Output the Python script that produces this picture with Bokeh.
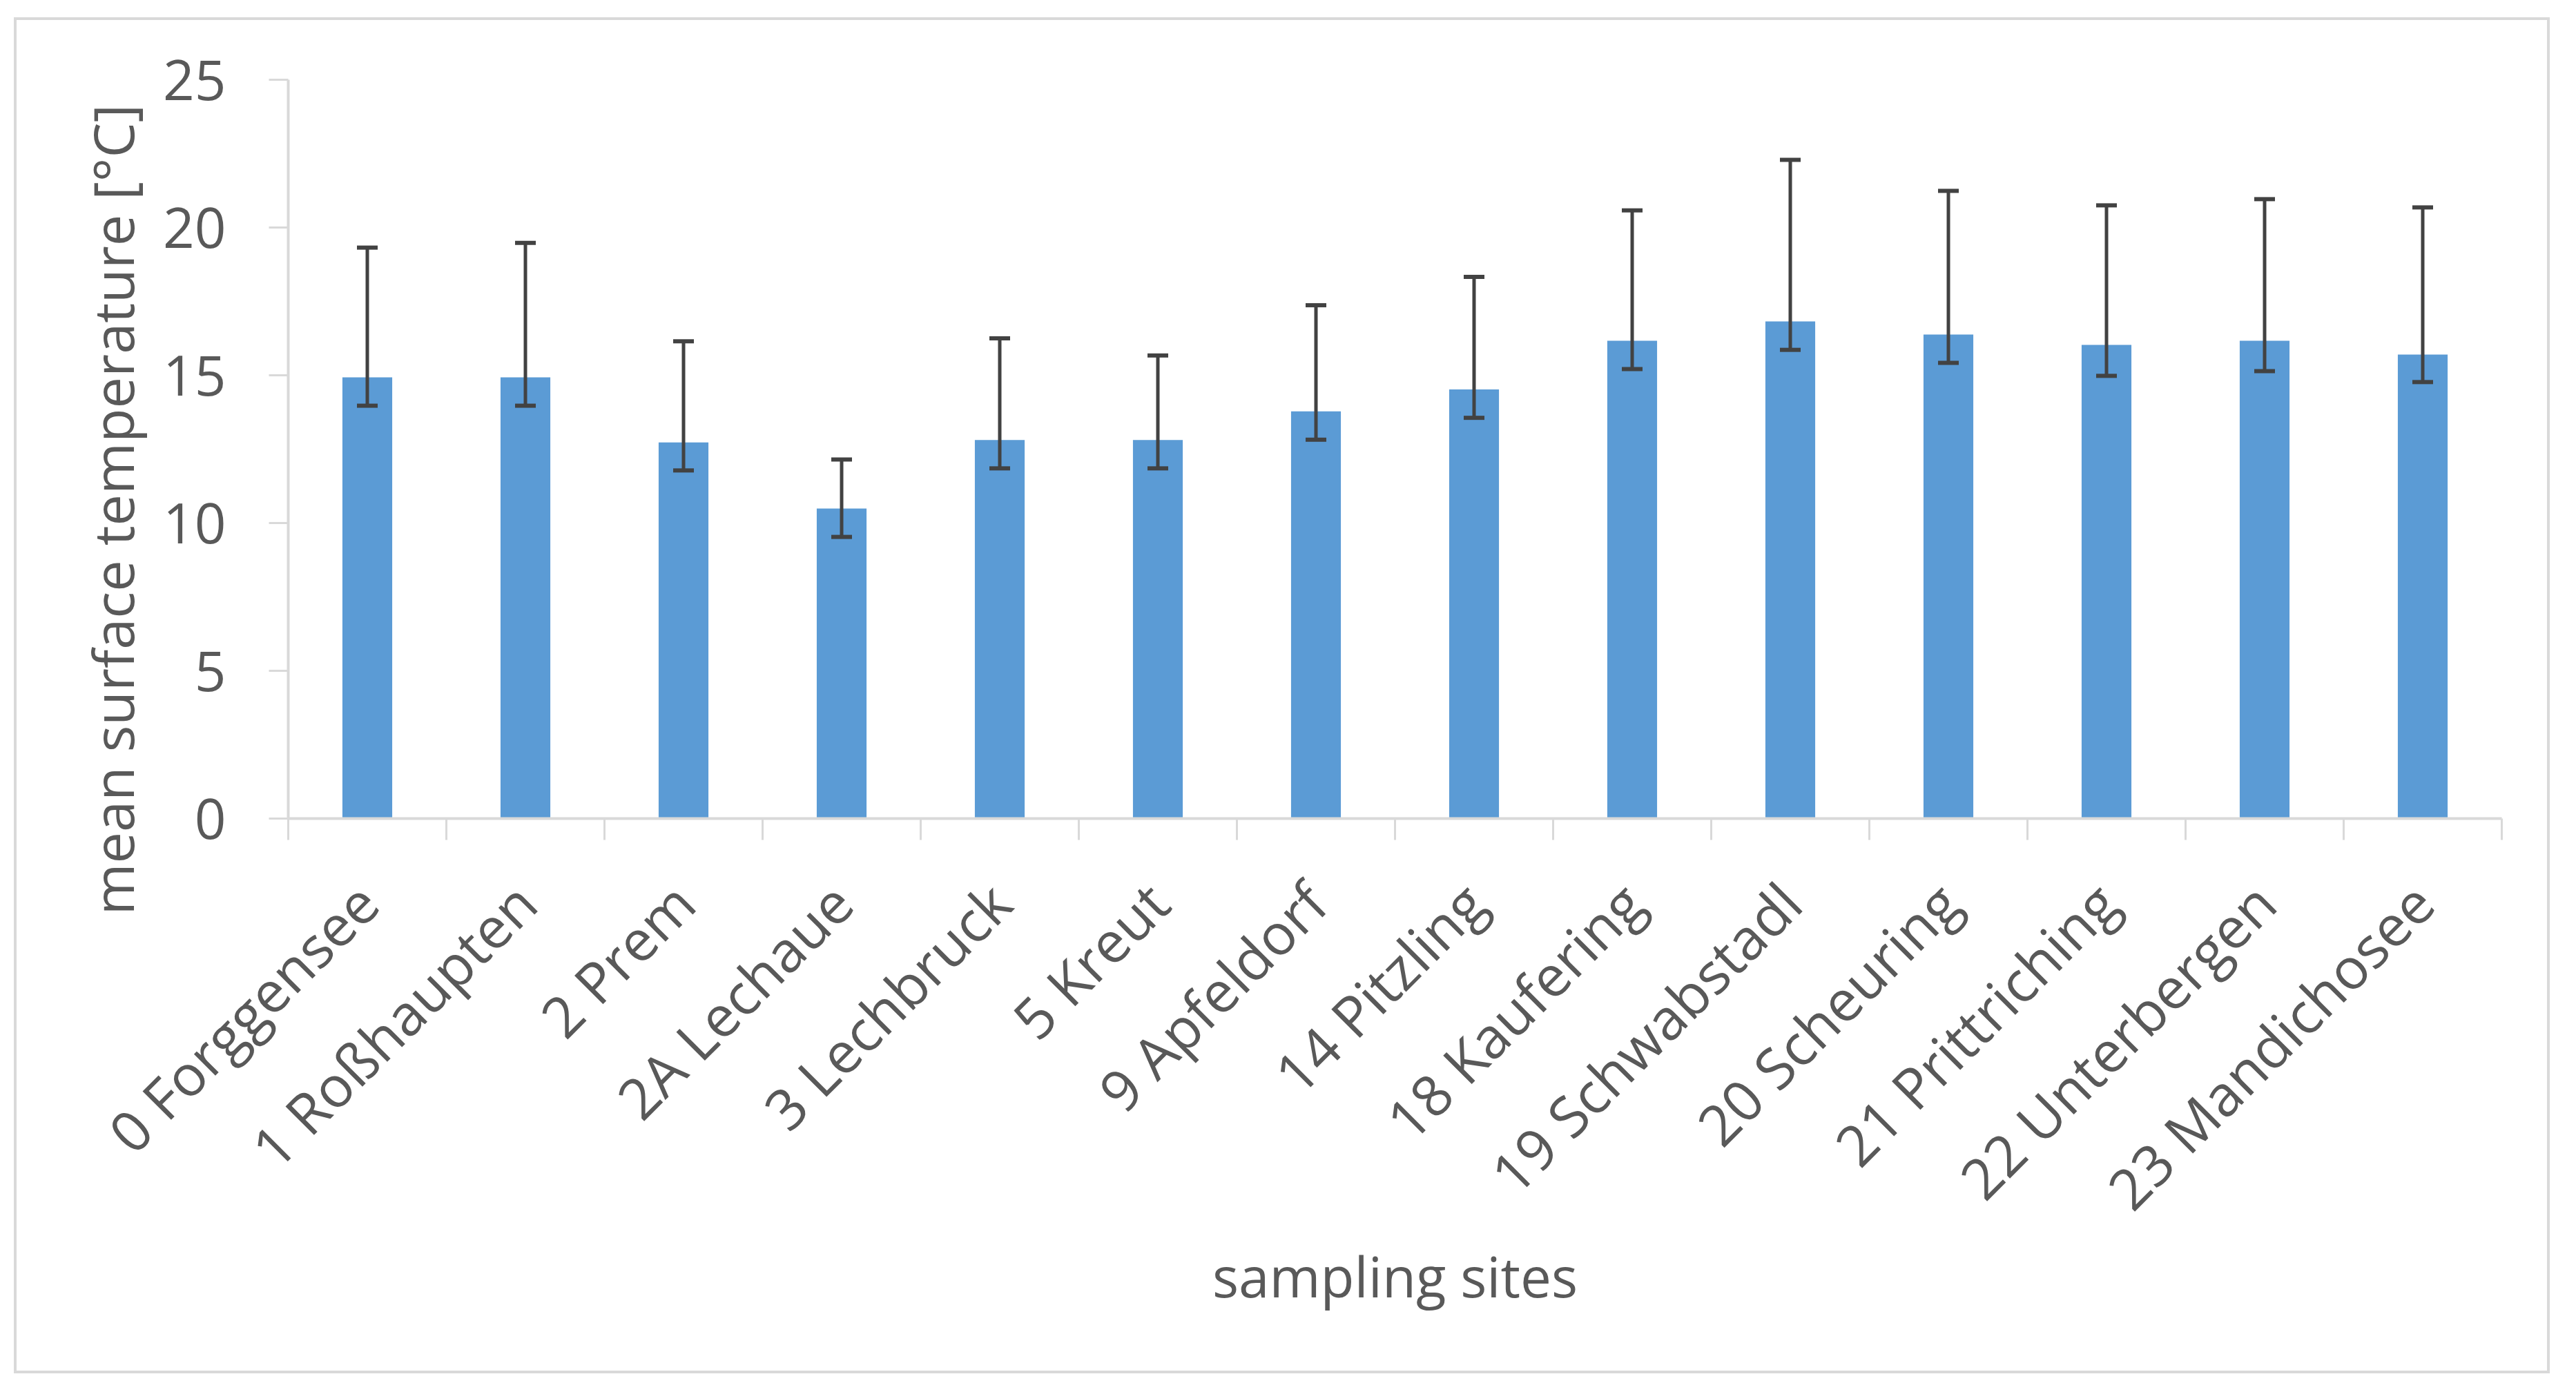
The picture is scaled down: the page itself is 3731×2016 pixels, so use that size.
import math
from bokeh.plotting import figure
from bokeh.layouts import column, row
from bokeh.models import ColumnDataSource, Whisker, TeeHead, FixedTicker, Title, Range1d, Spacer
from bokeh.embed import file_html
from bokeh.resources import INLINE

# ---- data ----
sites = ["0 Forggensee", "1 Roßhaupten", "2 Prem", "2A Lechaue", "3 Lechbruck",
         "5 Kreut", "9 Apfeldorf", "14 Pitzling", "18 Kaufering", "19 Schwabstadl",
         "20 Scheuring", "21 Prittriching", "22 Unterbergen", "23 Mandichosee"]
mean_temp = [14.93, 14.93, 12.73, 10.49, 12.81, 12.81, 13.78, 14.52, 16.17, 16.82,
             16.38, 16.03, 16.17, 15.70]
err_upper = [19.32, 19.48, 16.15, 12.15, 16.25, 15.67, 17.37, 18.33, 20.58, 22.29,
             21.24, 20.75, 20.96, 20.68]
err_lower = [13.97, 13.97, 11.78, 9.53, 11.85, 11.85, 12.82, 13.56, 15.21, 15.86,
             15.42, 14.98, 15.14, 14.77]
y_ticks = [0, 5, 10, 15, 20, 25]
y_title = "mean  surface temperature [°C]"
x_title = "sampling sites"

FONT = "Open Sans"
TXT = "#595959"
AX = "#d9d9d9"
ERR = "#424242"

n = len(sites)
x_pos = list(range(n))
src = ColumnDataSource(dict(x=x_pos, mean=mean_temp, upper=err_upper, lower=err_lower))

W, H = 3673, 1964
p = figure(width=W, height=H,
           x_range=Range1d(-0.5, n - 0.5), y_range=Range1d(0, 25),
           output_backend="svg", toolbar_location=None,
           min_border_left=393, min_border_right=74,
           min_border_top=86, min_border_bottom=808)
p.styles = {"border": "4px solid #d9d9d9"}
p.outline_line_color = None
p.xgrid.visible = False
p.ygrid.visible = False
p.background_fill_color = "white"
p.border_fill_color = "white"

p.vbar(x="x", top="mean", bottom=0, width=0.315, source=src,
       fill_color="#5B9BD5", line_color=None)

wh = Whisker(base="x", upper="upper", lower="lower", source=src, level="overlay",
             line_color=ERR, line_width=5,
             upper_head=TeeHead(size=30, line_color=ERR, line_width=6),
             lower_head=TeeHead(size=30, line_color=ERR, line_width=6))
p.add_layout(wh)

# x axis: labels at bar centres, tick marks at category boundaries
xa = p.xaxis[0]
xa.ticker = FixedTicker(ticks=x_pos, minor_ticks=[i - 0.5 for i in range(n + 1)])
xa.major_label_overrides = {i: s for i, s in enumerate(sites)}
xa.major_label_orientation = math.pi / 4
xa.major_tick_line_color = None
xa.major_tick_out = 0
xa.major_tick_in = 0
xa.minor_tick_line_color = AX
xa.minor_tick_line_width = 3
xa.minor_tick_out = 31
xa.minor_tick_in = 0
xa.axis_line_color = AX
xa.axis_line_width = 4
xa.major_label_text_font = FONT
xa.major_label_text_font_size = "82px"
xa.major_label_text_color = TXT
xa.major_label_standoff = 76
xa.axis_label = x_title
xa.axis_label_text_font = FONT
xa.axis_label_text_font_size = "80px"
xa.axis_label_text_font_style = "normal"
xa.axis_label_text_color = TXT
xa.axis_label_standoff = -24

ya = p.yaxis[0]
ya.ticker = FixedTicker(ticks=y_ticks)
ya.axis_line_color = AX
ya.axis_line_width = 4
ya.major_tick_line_color = AX
ya.major_tick_line_width = 3
ya.major_tick_out = 28
ya.major_tick_in = 0
ya.minor_tick_line_color = None
ya.major_label_text_font = FONT
ya.major_label_text_font_size = "80px"
ya.major_label_text_color = TXT
ya.major_label_standoff = 62

ytitle = Title(text=y_title, align="left", offset=-140, standoff=32,
               text_font=FONT, text_font_size="81px", text_font_style="normal",
               text_color=TXT)
p.add_layout(ytitle, "left")

page = column(Spacer(height=25), row(Spacer(width=20), p))
open("out.html", "w").write(file_html(page, INLINE))
